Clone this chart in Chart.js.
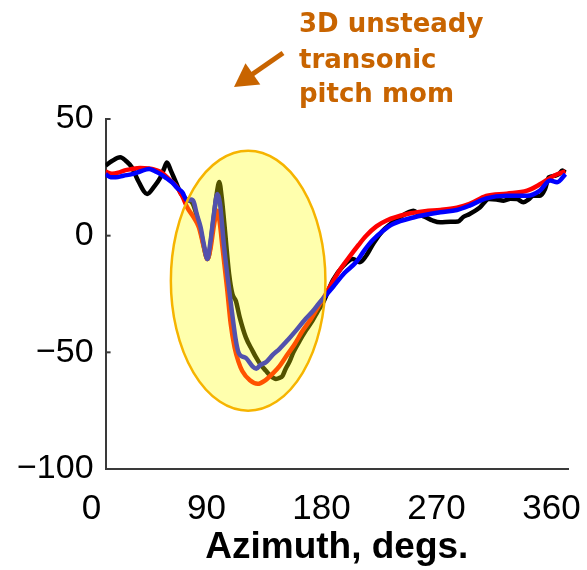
<!DOCTYPE html>
<html>
<head>
<meta charset="utf-8">
<script src="https://cdn.jsdelivr.net/npm/chart.js@4.4.1/dist/chart.umd.min.js"></script>
<style>
  html, body { margin: 0; padding: 0; background: #fff; }
  #wrap { width: 587px; height: 570px; position: relative; }
</style>
</head>
<body>
<div id="wrap"><canvas id="chart"></canvas></div>
<script>
// azimuth (deg) and pitching moment for each run
const azBlack = [0, 5, 11.5, 16, 20.5, 26, 32.5, 38, 43, 46, 48, 51, 55, 59, 62.7, 68, 74, 80, 84, 87, 89, 91, 93, 96.7, 99.3, 102, 105, 109.8, 115, 117.7, 121, 125.5, 129, 133.4, 136, 138.6, 141, 144, 147, 152, 157, 162, 166, 170, 178, 186, 193.6, 199, 204, 210, 217, 223, 230, 237, 241, 246, 251, 256, 262, 270, 276, 280, 285, 293, 300, 306, 311.6, 317, 322, 327, 331, 335, 340, 344, 347, 352, 355, 357.5, 360];
const valBlack = [30, 32, 33.6, 32, 29.3, 23, 17.9, 21, 25, 29, 31.4, 28, 22.9, 18, 15.7, 14, 3, -10, 5, 18, 23, 16, 5, -16.4, -25, -28, -35, -43.6, -49.3, -52.1, -55, -57.9, -60, -61.4, -61, -60, -57, -54, -50, -45, -40.5, -36.4, -32.5, -29, -19, -13, -10, -11.4, -8.6, -3, 2.1, 5, 7.8, 10, 10.7, 9, 7.8, 6.5, 5.7, 6, 6.1, 8, 9.3, 12.1, 15.7, 15.5, 15, 15.8, 15.7, 14.3, 15.5, 17.1, 17.1, 20, 25, 25.7, 26.4, 27.9, 27];

const azRed = [0, 5, 10, 15, 20, 27, 34, 40, 44, 50, 55, 60, 64, 69, 73, 77, 79.7, 82, 85, 87.5, 89.5, 91.5, 95, 98, 101, 104, 107, 113, 119, 125, 131, 136, 141, 148, 154, 161, 167, 175, 183, 191, 198, 204, 212, 220, 236, 250, 262, 275, 285, 298, 314, 330, 340, 351, 360];
const valRed = [27.4, 26.5, 27, 28, 28.5, 29, 28.8, 28, 27, 24, 21.4, 17, 12, 7.8, 3.6, -5, -10, -6, 5, 10.7, 5, -5, -22, -38, -48, -54, -58, -62, -63.5, -62, -59, -56, -52, -46.5, -41, -35.5, -30, -22.5, -15, -9, -4, 0, 4, 6.5, 9.3, 10.5, 11, 12, 13.6, 17, 18, 19.3, 22, 25.7, 27.6];

const azBlue = [0, 4, 8, 14, 20.7, 27, 34, 39, 43, 48, 52, 56, 60, 64, 67, 69, 71.5, 74.4, 77, 79.7, 82, 84.5, 87.5, 89.5, 92.8, 96, 99, 102, 104, 106, 110, 115, 118, 121, 126, 131, 136, 143, 149, 156, 162, 167, 178, 187, 196, 203, 209, 217, 225, 241, 262, 275, 285, 298, 314, 330, 340, 348, 353.5, 360];
const valBlue = [26.4, 25, 25, 25.7, 26.4, 27.5, 28.6, 27.5, 26.4, 24.5, 22.9, 20.5, 18.6, 15, 15.5, 14.5, 9, 3.6, -4, -10, -3, 8, 17.9, 14, -5, -20, -33, -45, -50, -51.5, -52.5, -56, -57, -55.5, -54, -51, -48.6, -44.5, -40.7, -36, -32.5, -29, -22, -16, -11.4, -6, -2, 2, 5, 7.8, 10, 11, 12.9, 16, 17.1, 17.1, 19.3, 23.6, 22.9, 26.4];

const xTicks = [0, 90, 180, 270, 360];
const yTicks = [-100, -50, 0, 50];

// highlighted transonic region (data units)
const zone = { az: 111.6, val: -19.3, azR: 60.5, valR: 55.7 };

const noteLines = ['3D unsteady', 'transonic', 'pitch mom'];
const orange = '#c86400';

function pts(xs, ys) {
    return xs.map((v, i) => ({ x: v, y: ys[i] }));
}

const overlay = {
    id: 'overlay',
    afterDatasetsDraw(chart) {
        const ctx = chart.ctx;
        const x = chart.scales.x, y = chart.scales.y;
        const cx = x.getPixelForValue(zone.az);
        const cy = y.getPixelForValue(zone.val);
        const rx = Math.abs(x.getPixelForValue(zone.az + zone.azR) - cx);
        const ry = Math.abs(y.getPixelForValue(zone.val + zone.valR) - cy);
        ctx.save();
        ctx.beginPath();
        ctx.ellipse(cx, cy, rx, ry, 0, 0, Math.PI * 2);
        ctx.fillStyle = 'rgba(255, 255, 0, 0.32)';
        ctx.fill();
        ctx.lineWidth = 2.5;
        ctx.strokeStyle = '#f6b400';
        ctx.stroke();

        // small inward ticks on the y axis
        ctx.strokeStyle = '#3a3a3a';
        ctx.lineWidth = 2;
        const left = chart.chartArea.left;
        yTicks.forEach(v => {
            const py = y.getPixelForValue(v);
            ctx.beginPath();
            ctx.moveTo(left, py);
            ctx.lineTo(left + 5, py);
            ctx.stroke();
        });
        ctx.restore();
    },
    afterDraw(chart) {
        const ctx = chart.ctx;
        ctx.save();
        ctx.fillStyle = orange;
        ctx.font = 'bold 26px "DejaVu Sans"';
        ctx.textBaseline = 'alphabetic';
        const base = [32, 68, 102];
        noteLines.forEach((t, i) => ctx.fillText(t, 299, base[i]));

        // arrow pointing down-left
        const tail = [283, 53], tip = [234, 87];
        const dx = tip[0] - tail[0], dy = tip[1] - tail[1];
        const len = Math.hypot(dx, dy);
        const ux = dx / len, uy = dy / len;
        const head = 23, half = 13;
        const bx = tip[0] - ux * head, by = tip[1] - uy * head;
        ctx.strokeStyle = orange;
        ctx.lineWidth = 5;
        ctx.beginPath();
        ctx.moveTo(tail[0], tail[1]);
        ctx.lineTo(bx + ux * 2, by + uy * 2);
        ctx.stroke();
        ctx.beginPath();
        ctx.moveTo(tip[0], tip[1]);
        ctx.lineTo(bx - uy * half, by + ux * half);
        ctx.lineTo(bx + uy * half, by - ux * half);
        ctx.closePath();
        ctx.fill();
        ctx.restore();
    }
};

Chart.defaults.color = '#000';
Chart.defaults.font.family = '"Liberation Sans", Arial, sans-serif';

const ctx = document.getElementById('chart').getContext('2d');
new Chart(ctx, {
    type: 'line',
    data: {
        datasets: [
            {
                label: 'black',
                data: pts(azBlack, valBlack),
                borderColor: '#000000',
                order: 3
            },
            {
                label: 'red',
                data: pts(azRed, valRed),
                borderColor: '#ff0000',
                order: 2
            },
            {
                label: 'blue',
                data: pts(azBlue, valBlue),
                borderColor: '#0000ff',
                order: 1
            }
        ]
    },
    options: {
        responsive: true,
        maintainAspectRatio: false,
        animation: false,
        layout: {
            padding: { left: 5, right: 19, top: 119, bottom: 0 }
        },
        elements: {
            point: { radius: 0 },
            line: { borderWidth: 4.5, cubicInterpolationMode: 'monotone', fill: false }
        },
        plugins: {
            legend: { display: false },
            tooltip: { enabled: false }
        },
        scales: {
            x: {
                type: 'linear',
                min: 0,
                max: 362,
                grid: { display: false, drawTicks: false },
                border: { display: true, color: '#3a3a3a', width: 2 },
                afterBuildTicks: function (scale) {
                    scale.ticks = xTicks.map(v => ({ value: v }));
                },
                afterFit: function (scale) {
                    scale.paddingLeft = 0;
                    scale.paddingRight = 0;
                    scale.height = 101;
                },
                ticks: {
                    font: { size: 35 },
                    padding: 19,
                    labelOffset: -14,
                    maxRotation: 0,
                    autoSkip: false
                },
                title: {
                    display: true,
                    text: 'Azimuth, degs.',
                    font: { size: 37, weight: 'bold' },
                    padding: { top: 0, bottom: 0 }
                }
            },
            y: {
                min: -100,
                max: 50,
                grid: { display: false, drawTicks: false },
                border: { display: true, color: '#3a3a3a', width: 2 },
                afterBuildTicks: function (scale) {
                    scale.ticks = yTicks.map(v => ({ value: v }));
                },
                ticks: {
                    font: { size: 34 },
                    padding: 12,
                    callback: v => (v < 0 ? '\u2212' + Math.abs(v) : String(v))
                }
            }
        }
    },
    plugins: [overlay]
});
</script>
</body>
</html>
